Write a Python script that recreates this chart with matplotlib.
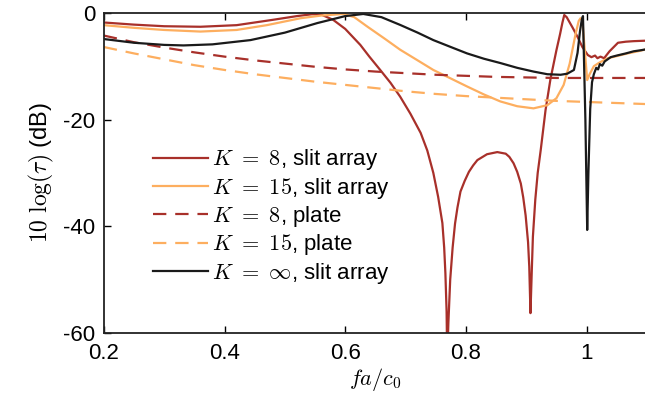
import matplotlib
matplotlib.use("Agg")
import matplotlib.pyplot as plt

plt.rcParams["font.family"] = ["Liberation Sans", "DejaVu Sans"]
plt.rcParams["mathtext.fontset"] = "cm"
plt.rcParams["font.size"] = 16

red = "#a8302a"
orange = "#fdae5f"

# K = 8, slit array
x_k8 = [0.2, 0.25, 0.3, 0.36, 0.42, 0.48, 0.52, 0.545, 0.56, 0.58, 0.6, 0.625,
        0.64, 0.658, 0.675, 0.691, 0.708, 0.725, 0.736, 0.746, 0.754, 0.761, 0.764,
        0.766, 0.768, 0.769, 0.771, 0.774, 0.778, 0.782, 0.786, 0.791, 0.798,
        0.805, 0.812, 0.819, 0.835, 0.852, 0.866, 0.872, 0.879, 0.885, 0.891,
        0.895, 0.899, 0.903, 0.905, 0.907, 0.909, 0.911, 0.915, 0.919, 0.924,
        0.932, 0.94, 0.95, 0.956, 0.96, 0.963, 0.967, 0.972, 0.977, 0.985, 0.993,
        1.002, 1.008, 1.014, 1.018, 1.023, 1.029, 1.038, 1.052, 1.065, 1.078, 1.1]
y_k8 = [-1.8, -2.2, -2.5, -2.6, -2.3, -1.3, -0.6, -0.25, -0.3, -1.3, -3.0, -6.0,
        -8.2, -10.7, -13.1, -15.7, -18.9, -22.5, -25.8, -30, -34.5, -39.4, -44,
        -48.8, -56, -65, -58, -50, -44, -39.5, -36.5, -33.5, -31.5,
        -29.8, -28.6, -27.6, -26.5, -26.1, -26.4, -27.0, -28.2, -29.8, -32,
        -34.6, -38, -43, -47.6, -56.3, -49, -42, -35, -30, -25.7,
        -18.2, -12.5, -7, -4, -1.8, -0.4, -0.8, -1.8, -2.8, -4.5, -6.4,
        -7.9, -8.3, -8.0, -8.5, -8.2, -8.5, -7.2, -5.6, -5.4, -5.3, -5.2]

# K = 15, slit array
x_k15 = [0.2, 0.25, 0.3, 0.36, 0.42, 0.47, 0.526, 0.56, 0.597, 0.615, 0.637, 0.665,
         0.691, 0.72, 0.746, 0.775, 0.802, 0.83, 0.857, 0.885, 0.912, 0.935, 0.95,
         0.962, 0.972, 0.982, 0.987, 0.99, 0.993, 0.997, 1.001, 1.005, 1.012,
         1.02, 1.035, 1.05, 1.068, 1.085, 1.1]
y_k15 = [-2.3, -2.8, -3.2, -3.5, -3.2, -2.3, -1.0, -0.5, -0.2, -0.8, -2.6, -4.8,
         -6.9, -8.9, -10.7, -12.3, -13.8, -15.3, -16.6, -17.5, -17.9, -17.3, -16.0,
         -13.5, -9.5, -3.8, -1.5, -1.0, -1.3, -7, -12.6, -11.5, -10,
         -9.4, -8.5, -8.1, -7.6, -7.2, -6.8]

# K = infinity, slit array
x_inf = [0.2, 0.25, 0.3, 0.332, 0.38, 0.443, 0.5, 0.554, 0.6, 0.63, 0.66, 0.691,
         0.72, 0.746, 0.775, 0.802, 0.83, 0.857, 0.885, 0.912, 0.935, 0.957, 0.968,
         0.979, 0.985, 0.989, 0.992, 0.994, 0.998, 1.001, 1.003, 1.006, 1.009, 1.012,
         1.016, 1.019, 1.022, 1.026, 1.03, 1.04, 1.05, 1.065, 1.078, 1.09, 1.1]
y_inf = [-4.9, -5.6, -6.0, -6.1, -5.9, -5.1, -3.7, -1.9, -0.6, -0.2, -0.8, -2.25,
         -3.7, -5.1, -6.4, -7.6, -8.6, -9.4, -10.3, -11, -11.5, -11.6, -11.4,
         -10.7, -7.5, -3.5, -1.3, -0.6, -20, -40.7, -30, -18, -13, -11.5,
         -10.3, -10.6, -9.6, -9.9, -9.1, -8.3, -8.0, -7.6, -7.2, -7.0, -6.8]

# plates
x_plate = [0.2, 0.25, 0.3, 0.35, 0.4, 0.45, 0.5, 0.55, 0.6, 0.65, 0.7, 0.75, 0.8,
           0.85, 0.9, 0.95, 1.0, 1.05, 1.1]
y_plate8 = [-4.25, -5.5, -6.5, -7.4, -8.2, -8.9, -9.5, -10.1, -10.6, -11.0, -11.3,
            -11.6, -11.8, -12.0, -12.1, -12.2, -12.2, -12.2, -12.2]
y_plate15 = [-6.4, -7.6, -8.7, -9.8, -10.7, -11.5, -12.2, -12.9, -13.5, -14.1, -14.7,
             -15.2, -15.6, -15.9, -16.2, -16.5, -16.7, -16.9, -17.1]

fig = plt.figure(figsize=(6.45, 4.03), dpi=100)
ax = fig.add_axes([0.161, 0.174, 0.842, 0.794])

lw = 1.6
dash = (0, (6, 4))
ax.plot(x_k8, y_k8, c=red, lw=lw, label=r"$K\ =\ 8$, slit array")
ax.plot(x_k15, y_k15, c=orange, lw=lw, label=r"$K\ =\ 15$, slit array")
ax.plot(x_plate, y_plate8, c=red, lw=lw, linestyle=dash, label=r"$K\ =\ 8$, plate")
ax.plot(x_plate, y_plate15, c=orange, lw=lw, linestyle=dash, label=r"$K\ =\ 15$, plate")
ax.plot(x_inf, y_inf, c="#1a1a1a", lw=lw, label=r"$K\ =\ \infty$, slit array")

ax.set_xlim(0.2, 1.1)
ax.set_ylim(-60, 0)
ax.set_xticks([0.2, 0.4, 0.6, 0.8, 1.0])
ax.set_xticklabels(["0.2", "0.4", "0.6", "0.8", "1"])
ax.set_yticks([-60, -40, -20, 0])
ax.set_yticklabels(["-60", "-40", "-20", "0"])
ax.tick_params(direction="in", top=True, length=5, width=1)
ax.tick_params(axis="x", pad=7)
ax.tick_params(axis="y", pad=6)
for sp in ax.spines.values():
    sp.set_linewidth(1.3)
    sp.set_color("#222222")

ax.set_xlabel(r"$fa/c_0$", labelpad=2)
ax.set_ylabel(r"$10\ \log(\tau)$ (dB)", fontsize=17, labelpad=5)

ax.legend(loc="upper left", bbox_to_anchor=(0.09, 0.58), frameon=False,
          handlelength=2.5, handletextpad=0.15, labelspacing=0.15,
          borderaxespad=0, borderpad=0)

fig.savefig("out.png", dpi=100)
